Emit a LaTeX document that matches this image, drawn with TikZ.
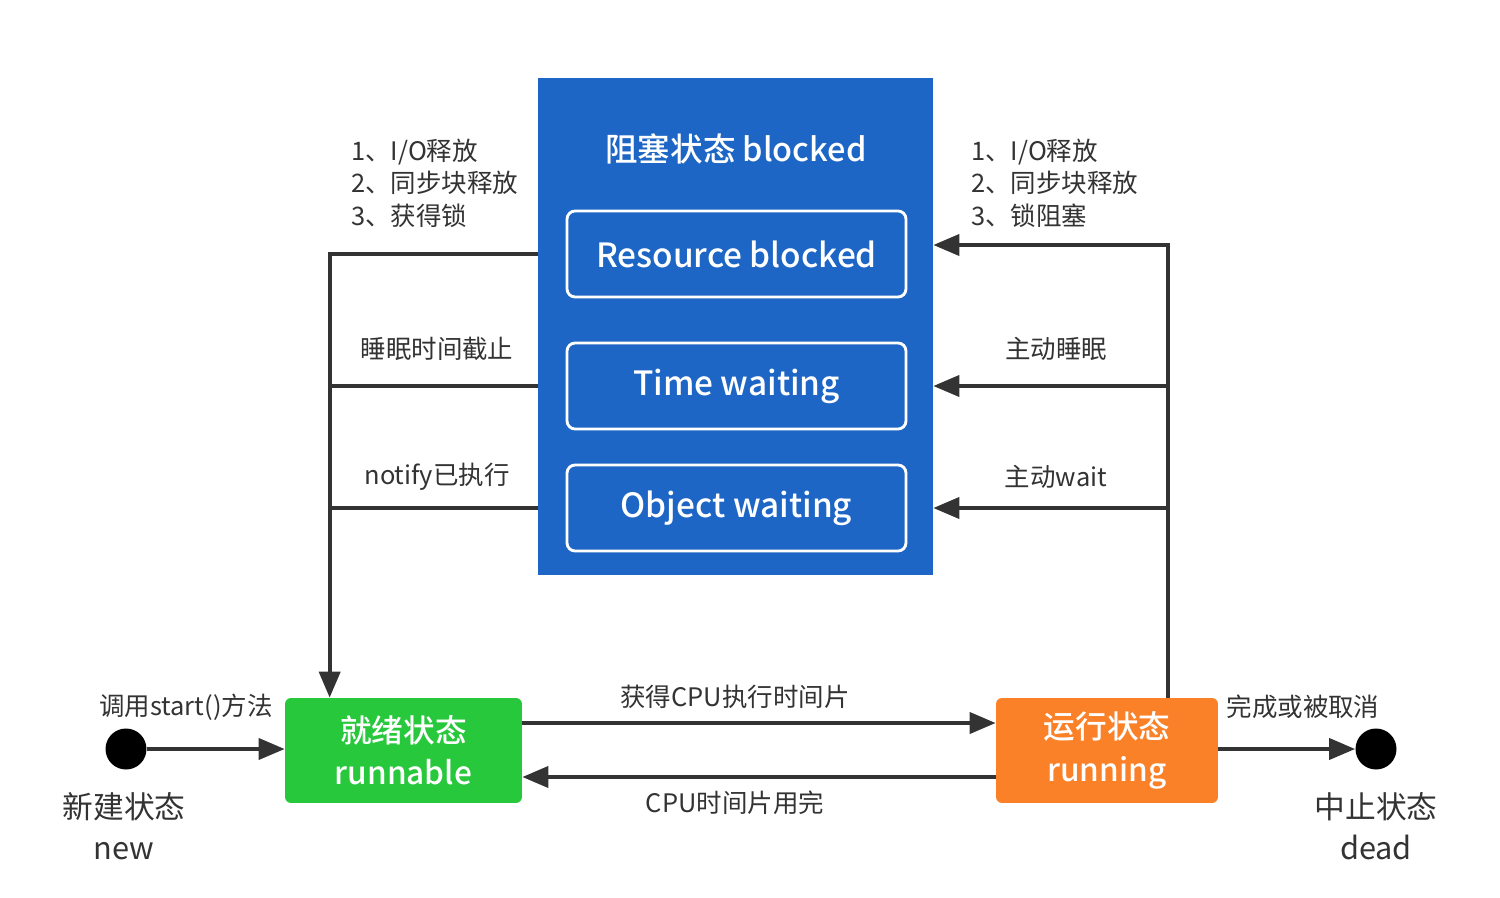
\documentclass[tikz,border=0pt]{standalone}
\usepackage{fontspec}
\setmainfont{Noto Sans CJK SC}
\newfontfamily\medfont{Noto Sans CJK SC Medium}
\usepackage{tikz}
\usetikzlibrary{positioning,arrows.meta}
\definecolor{blockblue}{HTML}{1E66C5}
\definecolor{readygreen}{HTML}{28C83C}
\definecolor{runorange}{HTML}{FA8128}
\definecolor{linegray}{HTML}{333333}
\tikzset{%
	state/.style={
		rectangle,
		rounded corners=0.12cm,
		text=white,
		font=\fontsize{18}{24}\medfont,
		align=center,
		minimum height=2.1cm
	},
	state-ready/.style={ fill=readygreen, minimum width=4.74cm },
	state-run/.style={ fill=runorange, minimum width=4.44cm },
	blockbox/.style={
		rectangle,
		fill=blockblue,
		minimum width=7.9cm,
		minimum height=9.94cm
	},
	waitbox/.style={
		rectangle,
		rounded corners=0.16cm,
		draw=white,
		line width=1.6pt,
		text=white,
		font=\fontsize{19}{24}\medfont,
		minimum width=6.78cm,
		minimum height=1.72cm
	},
	endpoint/.style={
		circle,
		fill=black,
		minimum size=0.82cm
	},
	lbl/.style={
		text=linegray,
		font=\fontsize{14.5}{18.5}\selectfont,
		align=left
	},
	bigl/.style={
		text=linegray,
		font=\fontsize{17.5}{23.3}\selectfont,
		align=center
	},
	line/.style={ draw=linegray, line width=2.2pt },
	arr/.style={ line, -{Triangle[length=0.52cm,width=0.42cm]} },
}
\begin{document}
\begin{tikzpicture}[x=0.02cm, y=-0.02cm]
\useasboundingbox (0,0) rectangle (1500,898);

% states
\node[blockbox] (blocked) at (735.5,326.5) {};
\node[text=white, font=\fontsize{18.5}{24}\medfont] (blocked-title) at (736,149) {阻塞状态 blocked};
\foreach \n/\t/\y in {res/Resource blocked/254, time/Time waiting/386, obj/Object waiting/508}
	\node[waitbox] (\n) at (736.5,\y) {\t};
\node[state, state-ready] (runnable) at (403.5,750.5) {就绪状态\\runnable};
\node[state, state-run] (running) at (1107,750.5) {运行状态\\running};
\node[endpoint] (new) at (126,749) {};
\node[endpoint] (dead) at (1376,749) {};

% join points
\coordinate (rin) at ([xshift=0.9cm]runnable.north west);
\coordinate (rout) at ([xshift=3.44cm]running.north west);

% connections
\draw[arr] (new) -- (new -| runnable.west);
\draw[arr] ([yshift=0.55cm]runnable.east) -- ([yshift=0.55cm]runnable.east -| running.west);
\draw[arr] ([yshift=-0.53cm]running.west) -- ([yshift=-0.53cm]running.west -| runnable.east);
\draw[arr] (running.east |- dead) -- (dead);
\draw[arr] (blocked.west |- res) -| (rin);
\foreach \n in {time,obj}
	\draw[line] (blocked.west |- \n) -- (\n -| rin);
\draw[arr] (rout) |- ([yshift=0.18cm]blocked.east |- res);
\foreach \n in {time,obj}
	\draw[arr] (\n -| rout) -- (blocked.east |- \n);

% labels
\node[lbl, anchor=west] (l-free) at (345,183) {1、I/O释放\\2、同步块释放\\3、获得锁};
\node[lbl, anchor=west] (r-free) at (965,183) {1、I/O释放\\2、同步块释放\\3、锁阻塞};
\node[lbl] (l-sleep) at (437,349) {睡眠时间截止};
\node[lbl] (l-notify) at (437,477) {notify已执行};
\node[lbl] (r-sleep) at (1056,349) {主动睡眠};
\node[lbl] (r-wait) at (1056,477) {主动wait};
\node[lbl] (l-start) at (186,707) {调用start()方法};
\node[lbl] (l-cpu) at (735,697) {获得CPU执行时间片};
\node[lbl] (l-slice) at (735,803) {CPU时间片用完};
\node[lbl] (l-done) at (1303,707) {完成或被取消};
\node[bigl] (new-name) at (124,826) {新建状态\\new};
\node[bigl] (dead-name) at (1376,826) {中止状态\\dead};

\end{tikzpicture}
\end{document}
